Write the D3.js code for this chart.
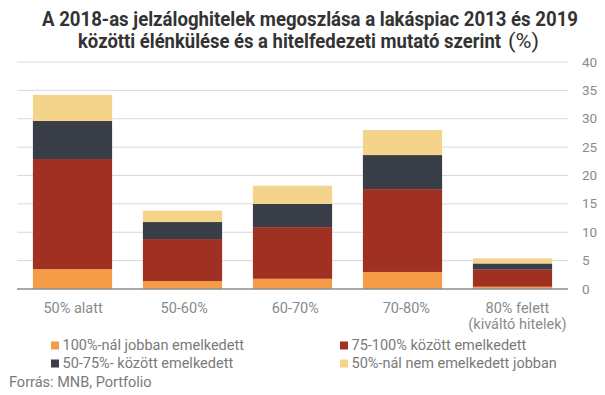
<!DOCTYPE html>
<html>
<head>
<meta charset="utf-8">
<script src="https://cdn.jsdelivr.net/npm/d3@7"></script>
<style>
  body { margin: 0; background: #fff; }
  text { font-family: Roboto, "Noto Sans", sans-serif; }
</style>
</head>
<body>
<div id="graph"></div>
<script>
var categories = ['50% alatt', '50-60%', '60-70%', '70-80%', '80% felett|(kiváltó hitelek)']
var seriesNames = ['100%-nál jobban emelkedett', '75-100% között emelkedett', '50-75%- között emelkedett', '50%-nál nem emelkedett jobban']
var s100 = [3.5, 1.4, 1.8, 3.0, 0.4]
var s75 = [19.4, 7.4, 9.1, 14.6, 3.0]
var s50 = [6.7, 3.0, 4.1, 6.0, 1.1]
var sLow = [4.6, 2.0, 3.2, 4.4, 0.9]
var yTicks = [0, 5, 10, 15, 20, 25, 30, 35, 40]
var colors = ['#f59c49', '#a03122', '#393d47', '#f4d38a']

var width = 605, height = 395
var svg = d3.select('#graph').append('svg').attr('width', width).attr('height', height)

// title (condensed look: squeezed to the widths of the original)
var title = svg.append('g').attr('fill', '#333').style('font-size', '19.5px')
title.append('text').attr('x', 42).attr('y', 26)
  .attr('textLength', 536).attr('lengthAdjust', 'spacingAndGlyphs')
  .style('font-weight', 'bold')
  .text('A 2018-as jelzáloghitelek megoszlása a lakáspiac 2013 és 2019')
title.append('text').attr('x', 78).attr('y', 48)
  .attr('textLength', 423).attr('lengthAdjust', 'spacingAndGlyphs')
  .style('font-weight', 'bold')
  .text('közötti élénkülése és a hitelfedezeti mutató szerint')
title.append('text').attr('x', 508).attr('y', 48)
  .attr('textLength', 31).attr('lengthAdjust', 'spacingAndGlyphs')
  .text('(%)')

var x = d3.scaleBand().domain(categories).range([17.5, 567.5]).paddingInner(0.28).paddingOuter(0.14)
var xl = d3.scaleBand().domain(categories).range([17.5, 573])
var y = d3.scaleLinear().domain([0, 40]).range([289, 62])

// grid
svg.append('g').selectAll('line').data(yTicks.slice(1)).join('line')
  .attr('x1', 17).attr('x2', 568)
  .attr('y1', d => y(d)).attr('y2', d => y(d))
  .attr('stroke', '#d9d9d9').attr('stroke-width', 1)

svg.append('g').selectAll('text').data(yTicks).join('text')
  .attr('x', 582).attr('y', d => y(d) + 4.5)
  .attr('fill', '#8a8a8a').style('font-size', '13.5px')
  .text(d => d)

var rows = categories.map((c, i) => ({cat: c, v: [s100[i], s75[i], s50[i], sLow[i]]}))
var stack = d3.stack().keys([0, 1, 2, 3]).value((d, k) => d.v[k])(rows)

svg.append('g').selectAll('g').data(stack).join('g')
  .attr('fill', (d, i) => colors[i])
  .selectAll('rect').data(d => d).join('rect')
  .attr('x', d => x(d.data.cat))
  .attr('width', x.bandwidth())
  .attr('y', d => y(d[1]))
  .attr('height', d => y(d[0]) - y(d[1]))

svg.append('line').attr('x1', 17).attr('x2', 568).attr('y1', y(0)).attr('y2', y(0))
  .attr('stroke', '#8c8c8c').attr('stroke-width', 1.5)

// x labels
svg.append('g').selectAll('text').data(categories).join('text')
  .attr('text-anchor', 'middle').attr('fill', '#8a8a8a').style('font-size', '14.5px')
  .attr('y', 313)
  .each(function(d){
    var sel = d3.select(this)
    d.split('|').forEach((line, j) => {
      sel.append('tspan').attr('x', xl(d) + xl.bandwidth()/2).attr('dy', j ? 15.5 : 0).text(line)
    })
  })

// legend
var legPos = [[51, 350], [340, 350], [51, 368], [340, 368]]
var leg = svg.append('g').selectAll('g').data(seriesNames).join('g')
  .attr('transform', (d, i) => 'translate(' + legPos[i] + ')')
leg.append('rect').attr('x', 0).attr('y', -8.5).attr('width', 8).attr('height', 8)
  .attr('fill', (d, i) => colors[i])
leg.append('text').attr('x', 11.5).attr('y', 0).attr('fill', '#7a7a7a').style('font-size', '14.5px').text(d => d)

svg.append('text').attr('x', 9).attr('y', 387).attr('fill', '#7a7a7a').style('font-size', '14.5px')
  .text('Forrás: MNB, Portfolio')
</script>
</body>
</html>
